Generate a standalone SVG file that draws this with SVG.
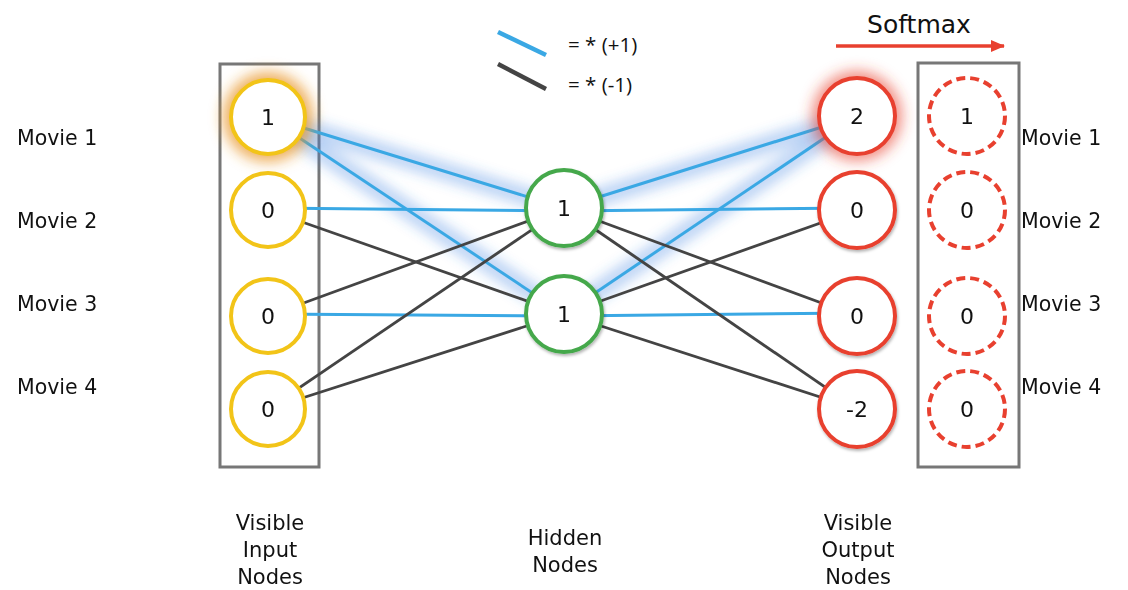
<svg xmlns="http://www.w3.org/2000/svg" width="1128" height="590" viewBox="0 0 1128 590">
<defs>
<style>
text{font-family:"DejaVu Sans","Liberation Sans",sans-serif;fill:#111}
.lbl{font-size:20.5px}
.num{font-size:22px;text-anchor:middle}
.leg{font-family:"Open Sans","DejaVu Sans",sans-serif;font-size:20.5px}
.bl{stroke:#3aa8e4;stroke-width:3;fill:none}
.bk{stroke:#444;stroke-width:2.8;fill:none}
.glow{stroke:#3a7fe0;stroke-width:20;opacity:0.3;fill:none}
.box{fill:none;stroke:#777;stroke-width:3}
.in{fill:#fff;stroke:#f2c418;stroke-width:4}
.hid{fill:#fff;stroke:#45a84b;stroke-width:4}
.out{fill:#fff;stroke:#e8402f;stroke-width:4}
.sm{fill:#fff;stroke:#e8402f;stroke-width:4;stroke-dasharray:9 5}
.cap{font-size:21px;text-anchor:middle}
</style>
<filter id="blur" x="-20%" y="-50%" width="140%" height="200%"><feGaussianBlur stdDeviation="6"/></filter>
<filter id="halo" x="-50%" y="-50%" width="200%" height="200%"><feGaussianBlur stdDeviation="7"/></filter>
<filter id="sh" x="-20%" y="-20%" width="140%" height="140%"><feDropShadow dx="1" dy="2" stdDeviation="1.5" flood-color="#000" flood-opacity="0.3"/></filter>
<marker id="arr" markerWidth="14" markerHeight="12" refX="13" refY="6" orient="auto" markerUnits="userSpaceOnUse"><path d="M0,0 L14,6 L0,12 z" fill="#e8402f"/></marker>
</defs>
<rect width="1128" height="590" fill="#fff"/>

<g id="legend">
<line x1="498" y1="32" x2="546" y2="55" class="bl" style="stroke-width:4.5"/>
<line x1="498" y1="64" x2="546" y2="89" class="bk" style="stroke-width:4.5"/>
<text x="568" y="52" class="leg">= * (+1)</text>
<text x="568" y="92" class="leg">= * (-1)</text>
</g>

<g id="softmax">
<text x="919" y="33" font-size="25" text-anchor="middle">Softmax</text>
<line x1="836" y1="46" x2="1004" y2="46" stroke="#e8402f" stroke-width="3.5" marker-end="url(#arr)"/>
</g>

<g id="boxes">
<rect x="220" y="64" width="99" height="403" class="box"/>
<rect x="918" y="63" width="101" height="404" class="box"/>
</g>

<g id="connectors">
<g filter="url(#blur)">
<line x1="268" y1="117" x2="564" y2="208" class="glow"/>
<line x1="268" y1="117" x2="564" y2="314" class="glow"/>
<line x1="564" y1="208" x2="857" y2="116" class="glow"/>
<line x1="564" y1="314" x2="857" y2="116" class="glow"/>
</g>
<line x1="268" y1="117" x2="564" y2="208" class="bl"/>
<line x1="268" y1="117" x2="564" y2="314" class="bl"/>
<line x1="268" y1="208" x2="564" y2="211" class="bl"/>
<line x1="268" y1="314" x2="564" y2="316" class="bl"/>
<line x1="268" y1="210" x2="564" y2="314" class="bk"/>
<line x1="268" y1="316" x2="564" y2="208" class="bk"/>
<line x1="268" y1="409" x2="564" y2="208" class="bk"/>
<line x1="268" y1="409" x2="564" y2="314" class="bk"/>
<line x1="564" y1="208" x2="857" y2="116" class="bl"/>
<line x1="564" y1="314" x2="857" y2="116" class="bl"/>
<line x1="564" y1="211" x2="857" y2="208" class="bl"/>
<line x1="564" y1="316" x2="857" y2="313" class="bl"/>
<line x1="564" y1="208" x2="857" y2="316" class="bk"/>
<line x1="564" y1="208" x2="857" y2="409" class="bk"/>
<line x1="564" y1="314" x2="857" y2="210" class="bk"/>
<line x1="564" y1="314" x2="857" y2="409" class="bk"/>
</g>

<g id="halos" filter="url(#halo)">
<circle cx="268" cy="117" r="45" fill="#e8962a" opacity="0.75"/>
<circle cx="857" cy="116" r="45" fill="#e8402f" opacity="0.6"/>
</g>

<g id="in1"><circle cx="268" cy="117" r="37" class="in"/><text x="268" y="125" class="num">1</text></g>
<g id="in2"><circle cx="268" cy="210" r="37" class="in"/><text x="268" y="218" class="num">0</text></g>
<g id="in3"><circle cx="268" cy="316" r="37" class="in"/><text x="268" y="324" class="num">0</text></g>
<g id="in4"><circle cx="268" cy="409" r="37" class="in"/><text x="268" y="417" class="num">0</text></g>

<g id="h1"><circle cx="564" cy="208" r="38" class="hid" filter="url(#sh)"/><text x="564" y="216" class="num">1</text></g>
<g id="h2"><circle cx="564" cy="314" r="38" class="hid" filter="url(#sh)"/><text x="564" y="322" class="num">1</text></g>

<g id="out1"><circle cx="857" cy="116" r="38" class="out"/><text x="857" y="124" class="num">2</text></g>
<g id="out2"><circle cx="857" cy="210" r="38" class="out" filter="url(#sh)"/><text x="857" y="218" class="num">0</text></g>
<g id="out3"><circle cx="857" cy="316" r="38" class="out" filter="url(#sh)"/><text x="857" y="324" class="num">0</text></g>
<g id="out4"><circle cx="857" cy="409" r="38" class="out" filter="url(#sh)"/><text x="857" y="417" class="num">-2</text></g>

<g id="sm1"><circle cx="967" cy="116" r="38" class="sm"/><text x="967" y="124" class="num">1</text></g>
<g id="sm2"><circle cx="967" cy="210" r="38" class="sm"/><text x="967" y="218" class="num">0</text></g>
<g id="sm3"><circle cx="967" cy="316" r="38" class="sm"/><text x="967" y="324" class="num">0</text></g>
<g id="sm4"><circle cx="967" cy="409" r="38" class="sm"/><text x="967" y="417" class="num">0</text></g>

<g id="movie-labels-left">
<text x="17" y="145" class="lbl">Movie 1</text>
<text x="17" y="228" class="lbl">Movie 2</text>
<text x="17" y="311" class="lbl">Movie 3</text>
<text x="17" y="394" class="lbl">Movie 4</text>
</g>
<g id="movie-labels-right">
<text x="1021" y="145" class="lbl">Movie 1</text>
<text x="1021" y="228" class="lbl">Movie 2</text>
<text x="1021" y="311" class="lbl">Movie 3</text>
<text x="1021" y="394" class="lbl">Movie 4</text>
</g>

<g id="captions">
<text x="270" y="530" class="cap">Visible</text>
<text x="270" y="557" class="cap">Input</text>
<text x="270" y="584" class="cap">Nodes</text>
<text x="565" y="545" class="cap">Hidden</text>
<text x="565" y="572" class="cap">Nodes</text>
<text x="858" y="530" class="cap">Visible</text>
<text x="858" y="557" class="cap">Output</text>
<text x="858" y="584" class="cap">Nodes</text>
</g>
</svg>
